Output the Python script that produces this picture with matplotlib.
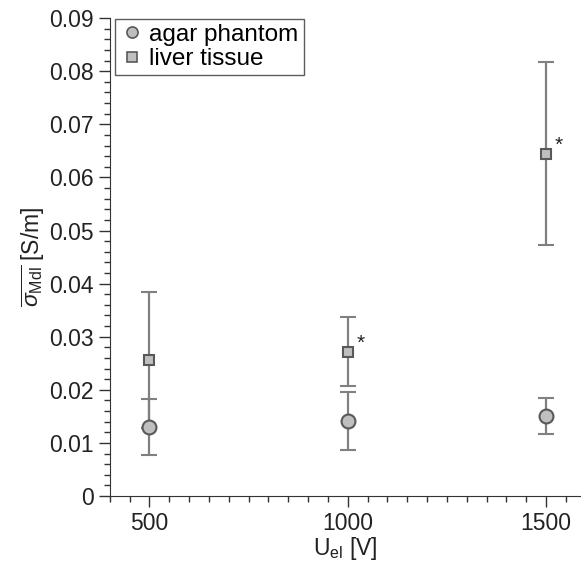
import numpy as np
import matplotlib
matplotlib.use("Agg")
import matplotlib.pyplot as plt
from matplotlib.ticker import MultipleLocator
from matplotlib.lines import Line2D

plt.rcParams['font.family'] = ['Liberation Sans', 'DejaVu Sans']
plt.rcParams['mathtext.fontset'] = 'custom'
plt.rcParams['mathtext.rm'] = 'Liberation Sans'
plt.rcParams['mathtext.it'] = 'Liberation Sans:italic'

voltage = [500, 1000, 1500]
agar_mean = [0.0130, 0.0141, 0.0150]
agar_err = [0.0052, 0.0055, 0.0034]
liver_mean = [0.0257, 0.0272, 0.0645]
liver_err = [0.0128, 0.0065, 0.0172]
significant = [False, True, True]

fig = plt.figure(figsize=(5.81, 5.65), dpi=100)
ax = fig.add_axes([0.189, 0.122, 0.809, 0.846])

ecol = '#808080'
fill = '#bfbfbf'
edge = '#595959'
ax.errorbar(voltage, agar_mean, yerr=agar_err, fmt='o', ms=10, mfc=fill, mec=edge,
            mew=1.5, ecolor=ecol, elinewidth=1.6, capsize=5.5, capthick=1.6)
ax.errorbar(voltage, liver_mean, yerr=liver_err, fmt='s', ms=7.5, mfc=fill, mec=edge,
            mew=1.5, ecolor=ecol, elinewidth=1.6, capsize=5.5, capthick=1.6)

for x, y, s in zip(voltage, liver_mean, significant):
    if s:
        ax.annotate('*', (x, y), xytext=(6, -1), textcoords='offset points', fontsize=15,
                    va='bottom', color='#222222')

ax.set_xlim(400, 1585)
ax.set_ylim(0, 0.09)
ax.set_xticks(voltage)
ax.xaxis.set_minor_locator(MultipleLocator(50))
ax.yaxis.set_minor_locator(MultipleLocator(0.002))
ax.set_yticks(np.arange(0, 0.091, 0.01))
ax.set_yticklabels(['0'] + ['%.2f' % v for v in np.arange(0.01, 0.091, 0.01)])

for s in ['top', 'right']:
    ax.spines[s].set_visible(False)
for s in ['left', 'bottom']:
    ax.spines[s].set_color('#333333')
ax.tick_params(which='major', length=8, width=1, colors='#333333', labelsize=16.5, labelcolor='#222222')
ax.tick_params(which='minor', length=4.5, width=1, colors='#333333')

ax.set_xlabel(r'U$_{\mathrm{el}}$ [V]', fontsize=16.5, labelpad=0, color='#222222')
ax.set_ylabel(r'$\overline{\sigma_{\mathrm{Mdl}}}$ [S/m]', fontsize=16.5, labelpad=2, color='#222222')

handles = [Line2D([], [], ls='none', marker='o', ms=8, mfc=fill, mec=edge, mew=1.2),
           Line2D([], [], ls='none', marker='s', ms=6.5, mfc=fill, mec=edge, mew=1.2)]
leg = ax.legend(handles, ['agar phantom', 'liver tissue'], loc='upper left', fontsize=17.5,
                frameon=True, fancybox=False, handletextpad=0.2, handlelength=1.0,
                borderpad=0.2, labelspacing=0.1, borderaxespad=0.0,
                bbox_to_anchor=(0.012, 0.998))
leg.get_frame().set_edgecolor('#333333')
leg.get_frame().set_linewidth(1)

fig.savefig('out.png', dpi=100)
